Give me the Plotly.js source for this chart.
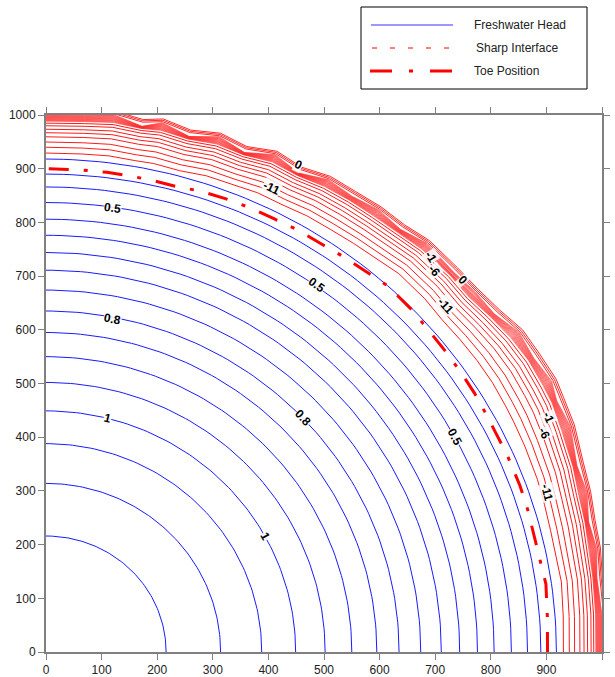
<!DOCTYPE html>
<html>
<head>
<meta charset="utf-8">
<script src="https://cdn.plot.ly/plotly-3.0.1.min.js"></script>
<style>html,body{margin:0;padding:0;background:#fff}</style>
</head>
<body>
<div id="chart" style="width:615px;height:677px"></div>
<script>
// ---- data ----
// freshwater head contours: radius (m) of each concentric arc
const blueRadii = [216, 314, 388, 449, 502, 550, 595, 635, 674, 711, 744, 776, 806, 837, 866, 890, 918];

// polar angle (deg) at which the toe and the outermost interface contour were read
const ringAngle = [0, 4, 8, 11, 14, 17, 20, 24, 27, 29, 32, 35, 38, 41, 44, 48, 51, 54, 57, 60, 63, 66, 69, 72, 75, 78, 80, 83, 86, 90];
// toe position radius
const toeR   = [902, 904, 908, 905, 904, 906, 907, 907, 906, 907, 909, 910, 911, 912, 916, 918, 913, 910, 907, 907, 905, 905, 904, 902, 898, 899, 899, 900, 900, 900];
// outermost sharp-interface contour radius (jagged coast side)
const coastR = [1008, 1010, 1012, 1015, 1020, 1023, 1031, 1039, 1047, 1048, 1049, 1045, 1037, 1029, 1031, 1030, 1026, 1024, 1024, 1022, 1016, 1020, 1011, 1015, 1009, 1014, 1010, 1014, 1010, 1008];
// saw-tooth notches of the dense interface band (radial offset, m)
const bandJag = [0, 0, -4, 2, -6, 3, -6, 3, -6, 2, -5, 3, -5, 2, -4, 2, -5, 2, -4, 2, -7, 2, -7, 2, -7, 2, -8, 2, 0, 0];
// relative position of each interface contour between toe (0) and outermost contour (1)
const innerFrac = [0.27, 0.37, 0.46, 0.55, 0.62, 0.68, 0.74, 0.785];
const bandFrac  = [0.82, 0.829, 0.838, 0.847, 0.856, 0.865, 0.874, 0.883, 0.892, 0.901, 0.91, 0.919, 0.928];
const outerFrac = [0.955, 0.978, 1.0];

// contour labels: [text, x, y, angle]
const blueLabels = [
  ["0.5", 120, 826, 8], ["0.5", 487, 683, 36], ["0.5", 735, 400, 62],
  ["0.8", 119, 621, 11], ["0.8", 462, 435, 47],
  ["1", 110, 435, 14], ["1", 394, 216, 61]
];
const redLabels = [
  ["0", 455, 907, 27], ["0", 749, 692, 47],
  ["-11", 406, 864, 25], ["-11", 719, 644, 48], ["-11", 902, 297, 76],
  ["-1", 692, 735, 58], ["-6", 699, 710, 52],
  ["-1", 903, 437, 66], ["-6", 896, 408, 64]
];
const xTicks = [0,100,200,300,400,500,600,700,800,900,1000];
const yTicks = [0,100,200,300,400,500,600,700,800,900,1000];
const legendNames = ["Freshwater Head", "Sharp Interface", "Toe Position"];

// ---- build traces ----
const rad = d => d * Math.PI / 180;
const traces = [];

blueRadii.forEach(r => {
  const xs = [], ys = [];
  for (let a = 0; a <= 90; a += 1) { xs.push(r * Math.cos(rad(a))); ys.push(r * Math.sin(rad(a))); }
  traces.push({type:'scatter', mode:'lines', x:xs, y:ys, line:{color:'#1a1aff', width:1}, hoverinfo:'skip', showlegend:false});
});

function ringLine(f, jagScale, color) {
  const xs = [], ys = [];
  ringAngle.forEach((a, k) => {
    const r = toeR[k] + f * (coastR[k] - toeR[k]) + jagScale * bandJag[k];
    xs.push(r * Math.cos(rad(a))); ys.push(r * Math.sin(rad(a)));
  });
  traces.push({type:'scatter', mode:'lines', x:xs, y:ys, line:{color:color, width:1}, hoverinfo:'skip', showlegend:false});
}
innerFrac.forEach(f => ringLine(f, 0, '#ff1a1a'));
bandFrac.forEach((f, j) => ringLine(f, j / (bandFrac.length - 1), 'rgba(255,40,40,0.6)'));
outerFrac.forEach(f => ringLine(f, 0.4, '#ff2a2a'));

{
  const xs = [], ys = [];
  ringAngle.forEach((a, k) => { xs.push(toeR[k] * Math.cos(rad(a))); ys.push(toeR[k] * Math.sin(rad(a))); });
  traces.push({type:'scatter', mode:'lines', x:xs, y:ys, line:{color:'#ff0000', width:3, dash:'20px,15px,4px,15px'}, hoverinfo:'skip', showlegend:false});
}

const annotations = [];
const lblFont = {family:'Liberation Sans, Arial, sans-serif', size:12, color:'#000'};
blueLabels.concat(redLabels).forEach(l => {
  annotations.push({x:l[1], y:l[2], xref:'x', yref:'y', text:'<b>'+l[0]+'</b>', showarrow:false,
    textangle:l[3], font:lblFont, bgcolor:'rgba(255,255,255,0.85)', borderpad:0});
});

// custom legend (paper coords; plot area 46..602 x 115..652 px)
const px = v => (v - 46) / 556;
const py = v => (652 - v) / 537;
const shapes = [
  {type:'rect', xref:'paper', yref:'paper', x0:px(361), x1:px(587), y0:py(89), y1:py(7), line:{color:'#000', width:1}, fillcolor:'#fff'},
  {type:'line', xref:'paper', yref:'paper', x0:px(371), x1:px(453), y0:py(25), y1:py(25), line:{color:'#3333ff', width:1}},
  {type:'line', xref:'paper', yref:'paper', x0:px(372), x1:px(453), y0:py(48), y1:py(48), line:{color:'#ff0000', width:1, dash:'5px,13px'}},
  {type:'line', xref:'paper', yref:'paper', x0:px(370), x1:px(453), y0:py(71), y1:py(71), line:{color:'#ff0000', width:3, dash:'22px,17px,4px,17px'}}
];
const legFont = {family:'Liberation Sans, Arial, sans-serif', size:12, color:'#222'};
[[472,25],[474,48],[472,71]].forEach((p, i) => {
  annotations.push({xref:'paper', yref:'paper', x:px(p[0]), y:py(p[1]), xanchor:'left', yanchor:'middle',
    text:legendNames[i], showarrow:false, font:legFont});
});

const axisCommon = {
  range:[0,1000], showgrid:false, zeroline:false, showline:true, linecolor:'#808080', linewidth:2,
  mirror:'ticks', ticks:'outside', ticklen:6, tickcolor:'#808080', tickwidth:1,
  tickfont:{family:'Liberation Sans, Arial, sans-serif', size:12, color:'#222'}, fixedrange:true
};
const layout = {
  width:615, height:677,
  margin:{l:46, r:13, t:115, b:25, pad:0},
  paper_bgcolor:'#fff', plot_bgcolor:'#fff',
  showlegend:false,
  xaxis:Object.assign({}, axisCommon, {tickvals:xTicks, ticktext:xTicks.map(String)}),
  yaxis:Object.assign({}, axisCommon, {tickvals:yTicks, ticktext:yTicks.map(String)}),
  shapes:shapes, annotations:annotations
};
Plotly.newPlot('chart', traces, layout, {staticPlot:true, displayModeBar:false});
</script>
</body>
</html>
